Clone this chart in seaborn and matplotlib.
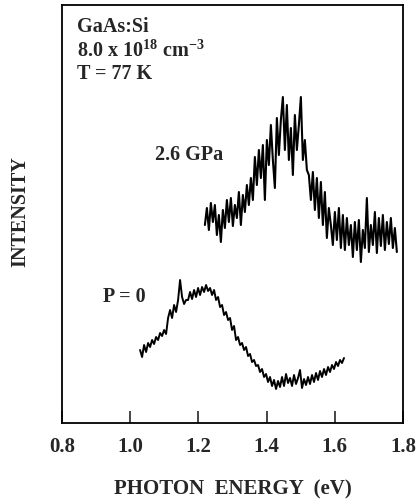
import numpy as np
import pandas as pd
import matplotlib
matplotlib.use("Agg")
import matplotlib.pyplot as plt
import seaborn as sns

# photoluminescence spectra (intensity in arb. units)
e_hp = np.linspace(1.219, 1.782, 97)      # 2.6 GPa spectrum energies (eV)
i_hp = [198, 215, 193, 220, 201, 218, 188, 208, 181, 213,
        195, 223, 201, 225, 197, 218, 205, 231, 198, 228,
        211, 238, 218, 245, 223, 266, 238, 273, 245, 278,
        223, 283, 258, 298, 263, 235, 305, 268, 303, 326,
        273, 318, 263, 295, 248, 308, 273, 298, 326, 263,
        283, 253, 248, 223, 251, 213, 245, 205, 241, 198,
        231, 185, 215, 198, 178, 211, 183, 215, 175, 208,
        173, 205, 178, 198, 166, 201, 173, 203, 161, 193,
        175, 225, 171, 198, 178, 211, 170, 205, 177, 208,
        173, 201, 179, 205, 175, 195, 171]

e_p0 = np.linspace(1.029, 1.627, 103)     # P = 0 spectrum energies (eV)
i_p0 = [73, 66, 78, 71, 80, 76, 83, 79, 86, 83,
        90, 87, 93, 89, 105, 113, 105, 118, 111, 123,
        143, 126, 119, 123, 123, 131, 124, 133, 126, 135,
        128, 136, 131, 138, 132, 135, 128, 133, 123, 126,
        116, 118, 108, 111, 103, 105, 93, 97, 83, 86,
        78, 80, 73, 76, 67, 69, 61, 63, 57, 58,
        51, 54, 46, 49, 41, 46, 37, 43, 34, 42,
        36, 46, 37, 49, 40, 45, 37, 48, 39, 45,
        53, 35, 44, 38, 46, 39, 48, 41, 50, 43,
        52, 46, 54, 48, 56, 51, 58, 54, 61, 57,
        63, 60, 65]

xticks = [0.8, 1.0, 1.2, 1.4, 1.6, 1.8]

sns.set_style("white")
plt.rcParams["font.family"] = ["Liberation Serif", "DejaVu Serif"]
plt.rcParams["font.weight"] = "bold"
plt.rcParams["mathtext.fontset"] = "custom"
plt.rcParams["mathtext.rm"] = "Liberation Serif:bold"
plt.rcParams["mathtext.it"] = "Liberation Serif:bold"
plt.rcParams["mathtext.bf"] = "Liberation Serif:bold"
plt.rcParams["mathtext.default"] = "rm"

fig = plt.figure(figsize=(4.2, 5.03), dpi=100)
ax = fig.add_axes([62 / 420, 80 / 503, 341 / 420, 418 / 503])

df_hp = pd.DataFrame({"energy": e_hp, "intensity": i_hp})
df_p0 = pd.DataFrame({"energy": e_p0, "intensity": i_p0})
sns.lineplot(data=df_hp, x="energy", y="intensity", color="black", lw=1.5, ax=ax)
sns.lineplot(data=df_p0, x="energy", y="intensity", color="black", lw=1.4, ax=ax)

ax.set_xlim(0.8, 1.8)
ax.set_ylim(0, 418)
ax.set_xticks(xticks)
ax.set_xticklabels([f"{t:.1f}" for t in xticks])
ax.set_yticks([])
ax.tick_params(axis="x", direction="in", length=9, width=1.2, pad=10,
               labelsize=15, bottom=True, top=False)
for s in ax.spines.values():
    s.set_linewidth(1.3)
    s.set_color("black")

ax.set_xlabel("PHOTON  ENERGY  (eV)", fontsize=15, fontweight="bold", labelpad=16)
ax.set_ylabel("")
fig.text(20 / 420, 1 - 212 / 503, "INTENSITY", rotation=90, ha="center",
         va="center", fontsize=14.5, fontweight="bold")

ax.text(0.844, 396, "GaAs:Si", fontsize=14.5, fontweight="bold", va="center")
ax.text(0.844, 372, "8.0 x 10$^{18}$ cm$^{-3}$", fontsize=14.5, fontweight="bold", va="center")
ax.text(0.844, 349, "T = 77 K", fontsize=14.5, fontweight="bold", va="center")
ax.text(1.073, 268, "2.6 GPa", fontsize=14.5, fontweight="bold", va="center")
ax.text(0.920, 126, "P = 0", fontsize=14.5, fontweight="bold", va="center")

fig.savefig("out.png", dpi=100)
